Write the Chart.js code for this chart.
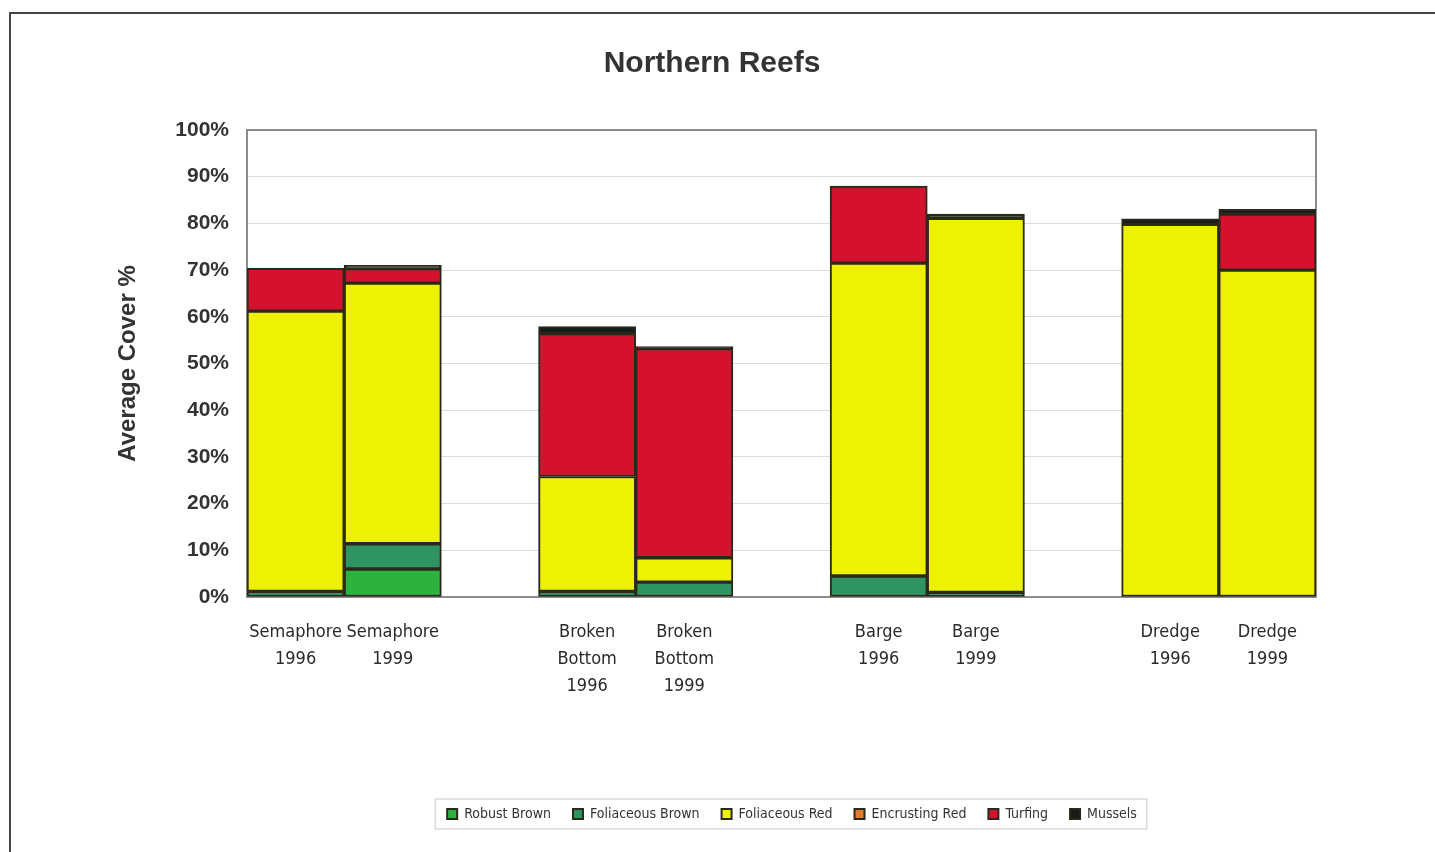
<!DOCTYPE html>
<html>
<head>
<meta charset="utf-8">
<script src="https://cdn.jsdelivr.net/npm/chart.js@4.4.1/dist/chart.umd.min.js"></script>
<style>
  html, body { margin: 0; padding: 0; background: #fff; overflow: hidden; }
  #frame { position: absolute; left: 9px; top: 12px; width: 1440px; height: 900px;
           border-left: 2px solid #444; border-top: 2px solid #444; }
  #wrap { position: absolute; left: 0; top: 0; width: 1435px; height: 852px; }
</style>
</head>
<body>
<div id="frame"></div>
<div id="wrap"><canvas id="reefs"></canvas></div>
<script>
  // site / year columns, empty strings are the gaps between sites
  const categories = [
    ['Semaphore', '1996'], ['Semaphore', '1999'], '',
    ['Broken', 'Bottom', '1996'], ['Broken', 'Bottom', '1999'], '',
    ['Barge', '1996'], ['Barge', '1999'], '',
    ['Dredge', '1996'], ['Dredge', '1999']
  ];
  const robustBrown     = [null, 6.0,  null, null, null, null, null, null, null, null, null];
  const foliaceousBrown = [1.2,  5.4,  null, 1.2,  3.2,  null, 4.5,  1.0,  null, null, null];
  const foliaceousRed   = [60.0, 55.8, null, 24.6, 5.2,  null, 67.0, 80.1, null, 79.8, 70.0];
  const encrustingRed   = [null, null, null, null, null, null, null, null, null, null, null];
  const turfing         = [9.2,  3.1,  null, 30.6, 44.8, null, 16.5, null, null, null, 12.0];
  const mussels         = [null, 0.7,  null, 1.5,  0.4,  null, null, 0.9,  null, 1.2,  1.0];
  const yTicks = [0, 10, 20, 30, 40, 50, 60, 70, 80, 90, 100];

  const edge = '#2a2a1c';
  function series(label, data, color) {
    return { label: label, data: data, backgroundColor: color, borderColor: edge,
             borderWidth: 2, borderSkipped: false };
  }

  // grey frame round the plot area
  const plotFrame = {
    id: 'plotFrame',
    beforeDatasetsDraw(chart) {
      const a = chart.chartArea, ctx = chart.ctx;
      ctx.save();
      ctx.strokeStyle = '#8c8c8c';
      ctx.lineWidth = 2;
      ctx.strokeRect(a.left, a.top, a.right - a.left, a.bottom - a.top);
      ctx.restore();
    }
  };

  // legend sits a bit right of centre in the original, and has a thin box
  const legendShift = 80;
  const legendBox = {
    id: 'legendBox',
    afterLayout(chart) {
      const lg = chart.legend;
      lg.left += legendShift;
      lg.right += legendShift;
      (lg.legendHitBoxes || []).forEach(function (h) { h.left += legendShift; });
    },
    afterDraw(chart) {
      const boxes = chart.legend.legendHitBoxes;
      if (!boxes || !boxes.length) return;
      let l = Infinity, r = -Infinity, t = Infinity, b = -Infinity;
      boxes.forEach(function (h) {
        l = Math.min(l, h.left); r = Math.max(r, h.left + h.width);
        t = Math.min(t, h.top); b = Math.max(b, h.top + h.height);
      });
      const ctx = chart.ctx;
      ctx.save();
      ctx.strokeStyle = '#c8c8c8';
      ctx.lineWidth = 1;
      ctx.strokeRect(l - 12, t - 8, r - l + 22, b - t + 16);
      ctx.restore();
    }
  };

  new Chart(document.getElementById('reefs').getContext('2d'), {
    type: 'bar',
    data: {
      labels: categories,
      datasets: [
        series('Robust Brown', robustBrown, '#2bb33e'),
        series('Foliaceous Brown', foliaceousBrown, '#2e9461'),
        series('Foliaceous Red', foliaceousRed, '#eef200'),
        series('Encrusting Red', encrustingRed, '#e07b2e'),
        series('Turfing', turfing, '#d5122e'),
        series('Mussels', mussels, '#1a1a1a')
      ]
    },
    options: {
      responsive: true,
      maintainAspectRatio: false,
      animation: false,
      datasets: { bar: { categoryPercentage: 1.0, barPercentage: 1.0 } },
      layout: { padding: { left: 108, right: 119, top: 32, bottom: 21 } },
      scales: {
        x: {
          stacked: true,
          grid: { display: false },
          border: { display: false },
          ticks: {
            color: '#2a2a2a',
            padding: 14,
            maxRotation: 0,
            autoSkip: false,
            font: { family: '"Liberation Sans Narrow", "DejaVu Sans Condensed", sans-serif', size: 18, lineHeight: 1.5 }
          },
          afterFit: function (scale) { scale.height = 188; }
        },
        y: {
          stacked: true,
          min: 0,
          max: 100,
          afterBuildTicks: function (scale) {
            scale.ticks = yTicks.map(function (v) { return { value: v }; });
          },
          afterFit: function (scale) { scale.width = 139; },
          grid: { color: '#dcdcdc', lineWidth: 1, drawTicks: false },
          border: { display: false },
          ticks: {
            color: '#333',
            padding: 18,
            font: { family: '"Liberation Sans", Arial, sans-serif', size: 21, weight: 'bold' },
            callback: function (v) { return v + '%'; }
          },
          title: {
            display: true,
            text: 'Average Cover %',
            color: '#333',
            padding: { top: 6, bottom: 0 },
            font: { family: '"Liberation Sans", Arial, sans-serif', size: 24, weight: 'bold' }
          }
        }
      },
      plugins: {
        title: {
          display: true,
          text: 'Northern Reefs',
          color: '#333',
          padding: { top: 14, bottom: 48 },
          font: { family: '"Liberation Sans", Arial, sans-serif', size: 30, weight: 'bold' }
        },
        legend: {
          display: true,
          position: 'bottom',
          labels: {
            color: '#333',
            boxWidth: 10,
            boxHeight: 10,
            padding: 22,
            font: { family: '"Liberation Sans Narrow", "DejaVu Sans Condensed", sans-serif', size: 14 }
          }
        },
        tooltip: { enabled: false }
      }
    },
    plugins: [plotFrame, legendBox]
  });
</script>
</body>
</html>
